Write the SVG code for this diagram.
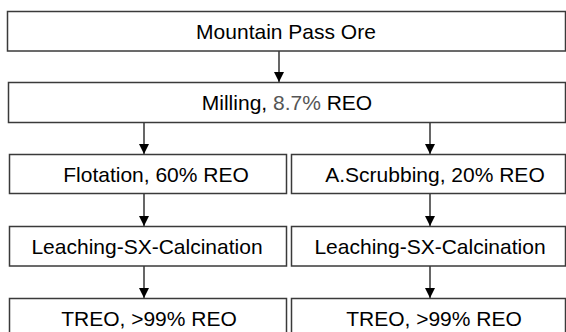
<svg xmlns="http://www.w3.org/2000/svg" width="566" height="332" viewBox="0 0 566 332">
  <defs>
    <marker id="arrow" viewBox="0 0 10 12" refX="10" refY="5" markerWidth="10" markerHeight="12" markerUnits="userSpaceOnUse" orient="auto">
      <path d="M0,0 L10,5 L0,10 Z" fill="#000"/>
    </marker>
    <style>
      .box { fill: #fff; stroke: #3a3a3a; stroke-width: 1.5; }
      .lbl { font-family: "Liberation Sans", Arial, sans-serif; font-size: 21px; fill: #000; text-anchor: middle; }
      .gray { fill: #555; }
      .conn { stroke: #000; stroke-width: 1.2; fill: none; marker-end: url(#arrow); }
    </style>
  </defs>
  <rect width="566" height="332" fill="#fff"/>

  <g id="connectors">
    <line class="conn" x1="279" y1="51" x2="279" y2="82"/>
    <line class="conn" x1="144" y1="123" x2="144" y2="154"/>
    <line class="conn" x1="430" y1="123" x2="430" y2="154"/>
    <line class="conn" x1="144" y1="194" x2="144" y2="226"/>
    <line class="conn" x1="430" y1="194" x2="430" y2="226"/>
    <line class="conn" x1="144" y1="266" x2="144" y2="298"/>
    <line class="conn" x1="430" y1="266" x2="430" y2="298"/>
  </g>

  <g id="ore">
    <rect class="box" x="7.5" y="11.5" width="558" height="39.5"/>
    <text class="lbl" x="286" y="38.5">Mountain Pass Ore</text>
  </g>

  <g id="milling">
    <rect class="box" x="8.5" y="82.5" width="557" height="40"/>
    <text class="lbl" x="287" y="110">Milling, <tspan class="gray">8.7%</tspan> REO</text>
  </g>

  <g id="flotation">
    <rect class="box" x="9.5" y="154.5" width="277" height="39"/>
    <text class="lbl" x="156" y="181.5">Flotation, 60% REO</text>
  </g>

  <g id="scrubbing">
    <rect class="box" x="291.5" y="154.5" width="274" height="39"/>
    <text class="lbl" x="435" y="181.5">A.Scrubbing, 20% REO</text>
  </g>

  <g id="leach-left">
    <rect class="box" x="9.5" y="226.5" width="277" height="39.5"/>
    <text class="lbl" x="147" y="253.5">Leaching-SX-Calcination</text>
  </g>

  <g id="leach-right">
    <rect class="box" x="291.5" y="226.5" width="274" height="39.5"/>
    <text class="lbl" x="430" y="253.5">Leaching-SX-Calcination</text>
  </g>

  <g id="treo-left">
    <rect class="box" x="9.5" y="298.5" width="277" height="40"/>
    <text class="lbl" x="149" y="325.5">TREO, &gt;99% REO</text>
  </g>

  <g id="treo-right">
    <rect class="box" x="291.5" y="298.5" width="274" height="40"/>
    <text class="lbl" x="434" y="325.5">TREO, &gt;99% REO</text>
  </g>
</svg>
